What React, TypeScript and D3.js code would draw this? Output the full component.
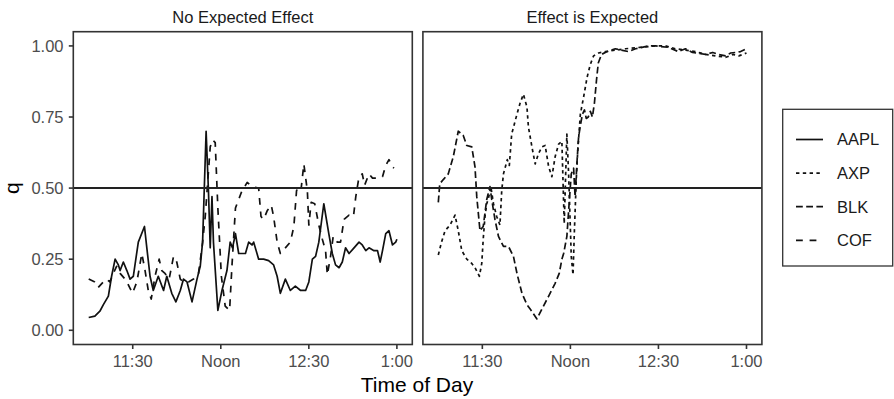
import React from 'react'
import * as d3 from 'd3'

// categories
const tickers = ['AAPL', 'AXP', 'BLK', 'COF']
const panelTitles = ['No Expected Effect', 'Effect is Expected']
const panelTickers = [['AAPL', 'COF'], ['AXP', 'BLK']]

// ticks (minutes after 11:00)
const timeTicks = [30, 60, 90, 120]
const timeLabels = ['11:30', 'Noon', '12:30', '1:00']
const qTicks = [0, 0.25, 0.5, 0.75, 1]
const qLabels = ['0.00', '0.25', '0.50', '0.75', '1.00']

// series: [minutes after 11:00, q]
const aapl = [[15,0.045],[17.1,0.05],[18.8,0.067],[20,0.09],[21.7,0.12],[22.8,0.19],[24,0.25],[25.1,0.23],[25.7,0.21],[26.8,0.24],[28,0.21],[29.1,0.18],[30.2,0.19],[31.9,0.31],[34,0.365],[34.8,0.29],[35.9,0.19],[37,0.14],[38.7,0.19],[40.5,0.14],[41.6,0.19],[43.3,0.13],[44.7,0.1],[46.2,0.14],[47.3,0.18],[48.5,0.17],[50.2,0.1],[51.9,0.18],[53,0.225],[53.8,0.31],[55,0.7],[55.8,0.49],[56.4,0.29],[57,0.47],[57.5,0.31],[59,0.07],[60.4,0.14],[62.1,0.21],[63.2,0.31],[64,0.29],[65,0.34],[66.1,0.27],[67.2,0.27],[68.4,0.27],[69.5,0.31],[70.7,0.3],[71.2,0.31],[72.9,0.25],[74.6,0.25],[76.3,0.245],[78,0.23],[79.2,0.19],[80.3,0.13],[82,0.18],[83.7,0.14],[85.4,0.155],[87.2,0.14],[88.9,0.14],[90,0.17],[91.2,0.25],[92.3,0.26],[93.4,0.31],[95.1,0.445],[96.8,0.34],[98,0.27],[99.1,0.23],[100.3,0.22],[101.4,0.24],[102.5,0.29],[103.7,0.27],[105.4,0.29],[107.1,0.31],[108.2,0.3],[109.4,0.28],[110.5,0.29],[112.2,0.28],[113.4,0.28],[114.3,0.24],[115.1,0.28],[116.2,0.34],[117.3,0.35],[118.5,0.3],[119.6,0.31],[120,0.32]]

const axp = [[15,0.265],[16.1,0.31],[17.3,0.35],[19,0.37],[20.7,0.405],[21.8,0.35],[23,0.28],[24.7,0.25],[26.4,0.235],[27.5,0.22],[29,0.19],[29.8,0.235],[30.3,0.32],[30.9,0.4],[31.5,0.445],[32.1,0.465],[32.9,0.505],[33.8,0.445],[34.9,0.4],[36,0.37],[36.6,0.49],[37.2,0.55],[38.5,0.6],[39.2,0.58],[40,0.69],[41.8,0.76],[42.9,0.8],[44,0.83],[45.2,0.785],[45.7,0.715],[46.9,0.645],[48,0.585],[49.1,0.62],[50.3,0.645],[51.4,0.65],[52.6,0.575],[53.7,0.54],[54.8,0.61],[56,0.655],[57.1,0.665],[57.9,0.375],[58.8,0.69],[59.4,0.55],[60.3,0.26],[60.9,0.195],[61.3,0.33],[62,0.53],[62.5,0.63],[63.4,0.76],[64.5,0.82],[65.7,0.89],[66.8,0.935],[67.9,0.965],[69.6,0.975],[71.9,0.98],[75.3,0.985],[78.8,0.99],[83.8,0.995],[89,1],[92.4,1],[95.8,0.99],[99.3,0.985],[102.7,0.98],[106.1,0.97],[109.5,0.965],[113,0.96],[115.4,0.97],[117.4,0.965],[120,0.975]]

const blk = [[15,0.45],[15.5,0.515],[16.7,0.53],[18.4,0.55],[20.1,0.61],[21.8,0.7],[23.5,0.685],[24.7,0.65],[26.4,0.645],[27.5,0.575],[28.1,0.47],[29.2,0.35],[30.3,0.365],[31.5,0.46],[32.6,0.505],[33.2,0.46],[34.3,0.39],[35.5,0.33],[37.2,0.295],[38.9,0.295],[40.6,0.26],[41.8,0.2],[43.5,0.13],[45.2,0.09],[46.3,0.075],[48.6,0.04],[50.3,0.075],[52.6,0.12],[54.8,0.165],[56.2,0.2],[57.1,0.25],[57.7,0.27],[58.8,0.33],[59.6,0.45],[60.3,0.55],[61.1,0.57],[61.6,0.47],[62.3,0.6],[62.8,0.68],[63.4,0.72],[64.1,0.76],[64.8,0.775],[65.4,0.745],[66.1,0.75],[66.8,0.77],[67.5,0.75],[68.2,0.8],[68.9,0.88],[69.5,0.94],[70.6,0.97],[72.5,0.98],[75.3,0.99],[79.8,0.98],[82.2,0.99],[86.6,1],[89,1],[93.4,0.995],[96.8,0.98],[99.2,0.99],[101.6,0.977],[106.1,0.97],[108.5,0.977],[110.5,0.97],[112.9,0.965],[114.6,0.975],[116.3,0.977],[118,0.98],[120,0.99]]

const cof = [[15,0.18],[17.1,0.17],[18.2,0.15],[20,0.17],[21.1,0.18],[22.2,0.17],[23.4,0.2],[24.5,0.225],[25.7,0.2],[27.4,0.18],[28.5,0.16],[29.9,0.13],[31.4,0.17],[33.1,0.27],[34.2,0.21],[35.3,0.14],[36.3,0.11],[37.6,0.19],[39,0.25],[39.9,0.21],[41,0.2],[42.4,0.18],[43.9,0.26],[45,0.24],[46.2,0.18],[47.3,0.17],[49,0.17],[50.7,0.18],[52.4,0.2],[53.6,0.29],[54.7,0.4],[56.4,0.645],[57.2,0.67],[58.1,0.66],[59,0.43],[60.2,0.19],[61.5,0.085],[63,0.07],[63.8,0.225],[65,0.43],[67.2,0.49],[69,0.52],[70.7,0.505],[72.9,0.5],[73.7,0.4],[74.6,0.39],[75.8,0.42],[77.2,0.44],[78,0.4],[79.2,0.31],[80.3,0.27],[82,0.29],[83.7,0.31],[84.9,0.365],[85.8,0.49],[86.6,0.51],[87.4,0.5],[88.3,0.585],[89.5,0.49],[90,0.37],[90.8,0.45],[92,0.445],[93.4,0.37],[94.6,0.32],[95.7,0.28],[96.3,0.195],[97.4,0.26],[98.3,0.33],[99.7,0.31],[100.8,0.31],[102,0.39],[103.7,0.405],[105.2,0.4],[106,0.47],[107.1,0.54],[108.2,0.55],[109,0.51],[110.5,0.55],[111.7,0.535],[113.4,0.535],[115.1,0.54],[116.2,0.58],[117.3,0.6],[118.5,0.575],[119,0.57]]

const seriesByTicker: Record<string, number[][]> = { AAPL: aapl, AXP: axp, BLK: blk, COF: cof }

// layout
const width = 894, height = 399
const panelTop = 31.7, panelBottom = 344.5
const panelLeft = [73.3, 422.9]
const panelWidth = 339
const font = '"Liberation Sans", Arial, Helvetica, sans-serif'
const lineW = 1.7
const dash: Record<string, string | undefined> = {
  AAPL: undefined,
  AXP: `${2 * lineW} ${2 * lineW}`,
  BLK: `${4 * lineW} ${2 * lineW}`,
  COF: `${4 * lineW} ${4 * lineW}`
}

const tMin = 15, tMax = 120
const tPad = (tMax - tMin) * 0.05
const yScale = d3.scaleLinear().domain([-0.05, 1.05]).range([panelBottom, panelTop])

export default function App () {
  return (
    <svg width={width} height={height} style={{ position: 'absolute', left: 0, top: 0, background: '#fff' }}
         fontFamily={font}>
      <defs>
        {panelLeft.map((x0, i) => (
          <clipPath id={`clip${i}`} key={i}>
            <rect x={x0} y={panelTop} width={panelWidth} height={panelBottom - panelTop} />
          </clipPath>
        ))}
      </defs>

      {panelLeft.map((x0, i) => {
        const xScale = d3.scaleLinear().domain([tMin - tPad, tMax + tPad]).range([x0, x0 + panelWidth])
        const line = d3.line<number[]>().x(d => xScale(d[0])).y(d => yScale(d[1]))
        return (
          <g key={i}>
            <text x={x0 + panelWidth / 2} y={23} textAnchor='middle' fontSize={16.5} fill='#1a1a1a'>
              {panelTitles[i]}
            </text>
            <g clipPath={`url(#clip${i})`}>
              {panelTickers[i].map(tk => (
                <path key={tk} d={line(seriesByTicker[tk]) || ''} fill='none' stroke='#111'
                      strokeWidth={lineW} strokeDasharray={dash[tk]} strokeLinejoin='round' />
              ))}
              <line x1={x0} x2={x0 + panelWidth} y1={yScale(0.5)} y2={yScale(0.5)} stroke='#222' strokeWidth={2} />
            </g>
            <rect x={x0} y={panelTop} width={panelWidth} height={panelBottom - panelTop}
                  fill='none' stroke='#333' strokeWidth={1.6} />
            {timeTicks.map((t, j) => (
              <g key={t}>
                <line x1={xScale(t)} x2={xScale(t)} y1={panelBottom} y2={panelBottom + 4.5} stroke='#333' strokeWidth={1.6} />
                <text x={xScale(t)} y={366.5} textAnchor='middle' fontSize={16.5} fill='#4d4d4d'>{timeLabels[j]}</text>
              </g>
            ))}
          </g>
        )
      })}

      {qTicks.map((q, j) => (
        <g key={q}>
          <line x1={panelLeft[0] - 4.5} x2={panelLeft[0]} y1={yScale(q)} y2={yScale(q)} stroke='#333' strokeWidth={1.6} />
          <text x={63.5} y={yScale(q)} dy='0.36em' textAnchor='end' fontSize={16.5} fill='#4d4d4d'>{qLabels[j]}</text>
        </g>
      ))}

      <text transform={`translate(19,${yScale(0.5)}) rotate(-90)`} textAnchor='middle' fontSize={21} fill='#000'>q</text>
      <text x={417} y={391.5} textAnchor='middle' fontSize={21} fill='#000'>Time of Day</text>

      <g>
        <rect x={782.7} y={109.3} width={110} height={156.7} fill='#fff' stroke='#333' strokeWidth={1.3} />
        {tickers.map((tk, i) => {
          const y = 139.5 + i * 33.6
          return (
            <g key={tk}>
              <line x1={796} x2={823} y1={y} y2={y} stroke='#111' strokeWidth={lineW} strokeDasharray={dash[tk]} />
              <text x={837} y={y} dy='0.36em' fontSize={16.5} fill='#1a1a1a'>{tk}</text>
            </g>
          )
        })}
      </g>
    </svg>
  )
}
